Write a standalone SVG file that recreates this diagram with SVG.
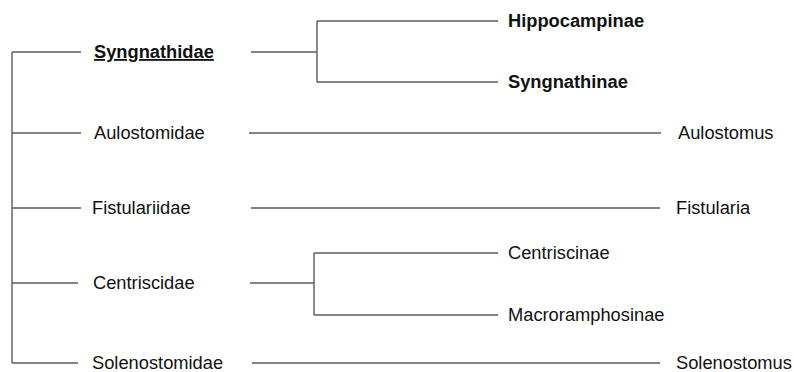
<svg xmlns="http://www.w3.org/2000/svg" width="794" height="372" viewBox="0 0 794 372">
<style>
.c line{stroke:#5a5a5a;stroke-width:1.4;fill:none}
text{font-family:"Liberation Sans",Arial,sans-serif;font-size:18.3px;fill:#111}
.b{font-weight:bold}
.u{text-decoration:underline}
</style>
<rect width="794" height="372" fill="#fff"/>
<g class="c" id="connectors">
<line x1="12" y1="52" x2="12" y2="363"/>
<line x1="12" y1="52" x2="81" y2="52"/>
<line x1="251" y1="52" x2="317" y2="52"/>
<line x1="317" y1="21" x2="317" y2="82"/>
<line x1="317" y1="21" x2="498" y2="21"/>
<line x1="317" y1="82" x2="498" y2="82"/>
<line x1="12" y1="133" x2="81" y2="133"/>
<line x1="249" y1="133" x2="661" y2="133"/>
<line x1="12" y1="208" x2="81" y2="208"/>
<line x1="251" y1="208" x2="660" y2="208"/>
<line x1="12" y1="283" x2="78" y2="283"/>
<line x1="250" y1="283" x2="314" y2="283"/>
<line x1="314" y1="253" x2="314" y2="315"/>
<line x1="314" y1="253" x2="498" y2="253"/>
<line x1="314" y1="315" x2="498" y2="315"/>
<line x1="12" y1="363" x2="78" y2="363"/>
<line x1="252" y1="363" x2="660" y2="363"/>
</g>
<g id="syngnathidae"><text x="94" y="58" class="b u">Syngnathidae</text></g>
<g id="hippocampinae"><text x="508" y="27" class="b">Hippocampinae</text></g>
<g id="syngnathinae"><text x="508" y="88" class="b">Syngnathinae</text></g>
<g id="aulostomidae"><text x="94" y="139">Aulostomidae</text></g>
<g id="aulostomus"><text x="678" y="139">Aulostomus</text></g>
<g id="fistulariidae"><text x="92" y="214">Fistulariidae</text></g>
<g id="fistularia"><text x="676" y="214">Fistularia</text></g>
<g id="centriscidae"><text x="93" y="289">Centriscidae</text></g>
<g id="centriscinae"><text x="508" y="259">Centriscinae</text></g>
<g id="macroramphosinae"><text x="508" y="321">Macroramphosinae</text></g>
<g id="solenostomidae"><text x="92" y="369">Solenostomidae</text></g>
<g id="solenostomus"><text x="676" y="369">Solenostomus</text></g>
</svg>
